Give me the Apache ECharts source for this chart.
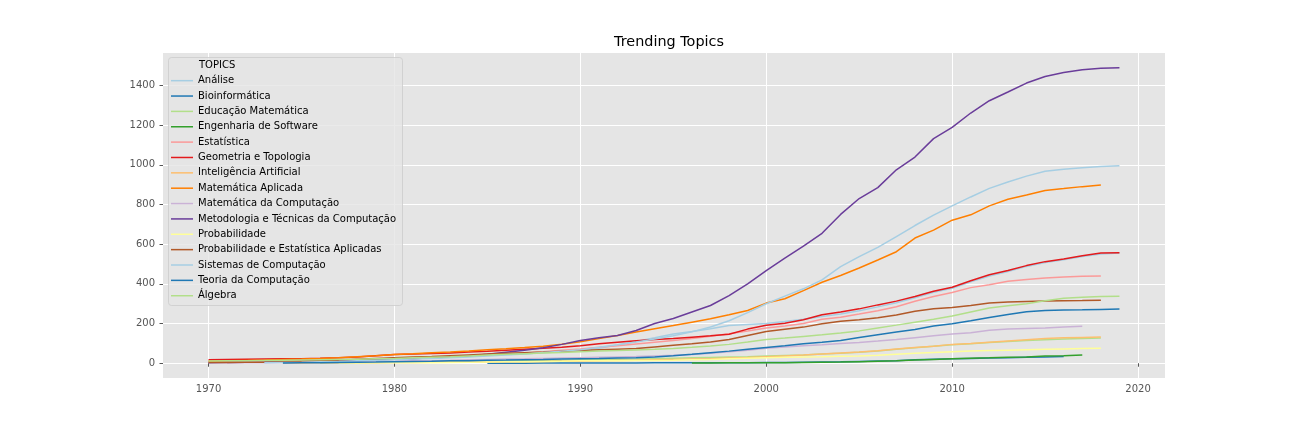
<!DOCTYPE html>
<html>
<head>
<meta charset="utf-8">
<script src="https://cdn.jsdelivr.net/npm/echarts@6/dist/echarts.min.js"></script>
<style>
html, body { margin: 0; padding: 0; background: #fff; }
#chart { width: 1296px; height: 432px; }
</style>
</head>
<body>
<div id="chart"></div>
<script>
// topic names, in legend order
var topics = ['Análise', 'Bioinformática', 'Educação Matemática', 'Engenharia de Software',
    'Estatística', 'Geometria e Topologia', 'Inteligência Artificial', 'Matemática Aplicada',
    'Matemática da Computação', 'Metodologia e Técnicas da Computação', 'Probabilidade',
    'Probabilidade e Estatística Aplicadas', 'Sistemas de Computação', 'Teoria da Computação', 'Álgebra'];

// first year of each series (values are yearly from there on)
var startYears = [1970, 1985, 1976, 1996, 1970, 1970, 1974, 1970, 1971, 1970, 1977, 1970, 1973, 1974, 1970];

var analise = [8, 9, 10, 11, 12, 13, 14, 16, 18, 21, 24, 27, 30, 33, 36, 40, 44, 48, 53, 58,
    64, 76, 92, 110, 128, 147, 160, 174, 190, 195, 200, 210, 222, 236, 248, 265, 284, 305, 330, 357,
    378, 410, 440, 462, 488, 508, 522, 538, 550, 556];
var bioinformatica = [0, 0, 0, 1, 1, 1, 1, 1, 1, 2, 2, 2, 2, 3, 3, 4, 4, 5, 6, 7,
    9, 11, 13, 17, 20, 22, 24, 26, 28, 30, 32, 34];
var educacaoMatematica = [1, 2, 3, 4, 5, 6, 7, 8, 9, 10, 11, 12, 13, 15, 17, 18, 20, 21, 23, 25,
    27, 29, 31, 33, 36, 39, 42, 46, 50, 55, 62, 70, 78, 86, 93, 98, 104, 109, 114, 118, 122, 125, 127];
var engenhariaSoftware = [1, 1, 2, 2, 3, 3, 4, 5, 6, 8, 10, 12, 16, 19, 22, 25, 27, 30, 32, 36, 38, 41];
var estatistica = [5, 6, 7, 8, 10, 12, 14, 16, 18, 21, 24, 27, 30, 34, 38, 42, 47, 52, 58, 65,
    72, 80, 88, 97, 106, 115, 125, 136, 148, 162, 178, 188, 200, 222, 232, 248, 265, 285, 312, 336,
    356, 381, 395, 413, 422, 430, 435, 438, 440];
var geometriaTopologia = [18, 19, 20, 21, 22, 23, 25, 28, 32, 38, 44, 46, 49, 52, 56, 60, 65, 70, 75, 80,
    88, 98, 106, 113, 119, 124, 131, 138, 146, 172, 191, 202, 219, 244, 258, 274, 294, 313, 336, 363,
    383, 416, 446, 467, 492, 512, 525, 542, 555, 557];
var inteligenciaArtificial = [1, 1, 2, 2, 3, 3, 4, 4, 5, 5, 6, 6, 7, 8, 9, 10, 11, 12, 14, 15,
    17, 19, 21, 23, 26, 29, 33, 37, 41, 46, 51, 56, 63, 72, 79, 86, 95, 100, 106, 112, 118, 124, 128, 130, 132];
var matematicaAplicada = [10, 12, 14, 16, 19, 21, 24, 28, 33, 38, 44, 48, 53, 57, 62, 68, 73, 79, 86, 96,
    108, 124, 140, 157, 174, 190, 207, 224, 244, 266, 303, 325, 366, 408, 442, 480, 520, 562, 631, 671,
    721, 748, 793, 826, 848, 871, 880, 890, 898];
var matematicaComputacao = [2, 2, 3, 4, 5, 6, 7, 8, 9, 10, 12, 13, 15, 17, 19, 21, 22, 24, 26, 28,
    30, 32, 34, 37, 40, 44, 50, 58, 66, 75, 82, 88, 93, 99, 105, 112, 120, 129, 138, 147,
    154, 166, 172, 175, 177, 183, 186];
var metodologiaTecnicas = [3, 4, 5, 6, 8, 10, 12, 14, 16, 18, 20, 23, 27, 31, 36, 45, 55, 65, 78, 95,
    115, 128, 140, 165, 200, 225, 258, 291, 341, 400, 467, 530, 590, 655, 750, 830, 885, 975, 1039, 1132,
    1189, 1261, 1323, 1367, 1412, 1445, 1465, 1479, 1487, 1489];
var probabilidade = [1, 1, 2, 2, 3, 3, 4, 5, 6, 7, 8, 9, 10, 12, 12, 13, 14, 14, 15, 17,
    19, 22, 25, 28, 30, 32, 33, 35, 37, 40, 45, 50, 54, 58, 61, 64, 66, 68, 70, 72, 74, 75];
var probEstAplicadas = [4, 4, 5, 5, 8, 10, 13, 16, 20, 24, 28, 31, 34, 38, 42, 46, 50, 53, 56, 60,
    64, 68, 71, 74, 82, 90, 98, 107, 120, 140, 160, 171, 182, 199, 211, 219, 229, 243, 262, 275,
    281, 291, 303, 308, 311, 313, 315, 316, 318];
var sistemasComputacao = [3, 4, 5, 7, 9, 12, 15, 18, 21, 24, 28, 32, 36, 41, 47, 54, 61,
    68, 80, 93, 107, 122, 138, 158, 183, 214, 255, 300, 338, 375, 420, 487, 537, 584, 638, 694, 746,
    793, 838, 881, 913, 943, 968, 978, 985, 992, 995];
var teoriaComputacao = [1, 2, 3, 4, 5, 6, 8, 9, 10, 12, 13, 15, 16, 18, 19, 21, 23, 24, 26, 28,
    32, 38, 45, 53, 61, 70, 79, 88, 98, 106, 115, 130, 144, 157, 170, 188, 199, 214, 231, 246,
    260, 266, 268, 269, 271, 273];
var algebra = [11, 12, 13, 14, 15, 16, 17, 19, 20, 22, 24, 27, 30, 33, 37, 41, 45, 48, 51, 54,
    58, 61, 64, 67, 70, 74, 80, 87, 95, 107, 120, 127, 135, 143, 152, 163, 178, 192, 207, 222,
    238, 258, 278, 290, 300, 315, 327, 333, 336, 338];

var xTicks = [1970, 1980, 1990, 2000, 2010, 2020];
var yTicks = [0, 200, 400, 600, 800, 1000, 1200, 1400];

var allValues = [analise, bioinformatica, educacaoMatematica, engenhariaSoftware, estatistica,
    geometriaTopologia, inteligenciaArtificial, matematicaAplicada, matematicaComputacao,
    metodologiaTecnicas, probabilidade, probEstAplicadas, sistemasComputacao, teoriaComputacao, algebra];

// matplotlib "Paired" colour cycle
var palette = ['#a6cee3', '#1f78b4', '#b2df8a', '#33a02c', '#fb9a99', '#e31a1c', '#fdbf6f',
    '#ff7f00', '#cab2d6', '#6a3d9a', '#ffff99', '#b15928'];

// axis limits with matplotlib's 5% margins
var xLo = 1970, xHi = 1970;
var yLo = 0, yHi = 0;
allValues.forEach(function (vals, i) {
    xLo = Math.min(xLo, startYears[i]);
    xHi = Math.max(xHi, startYears[i] + vals.length - 1);
    yLo = Math.min(yLo, Math.min.apply(null, vals));
    yHi = Math.max(yHi, Math.max.apply(null, vals));
});
var xPad = (xHi - xLo) * 0.05, yPad = (yHi - yLo) * 0.05;

var series = topics.map(function (name, i) {
    return {
        name: name,
        type: 'line',
        color: palette[i % palette.length],
        symbol: 'none',
        lineStyle: { width: 1.5 },
        emphasis: { disabled: true },
        data: allValues[i].map(function (v, k) { return [startYears[i] + k, v]; })
    };
});

var plainNumber = function (v) { return String(v); };
var labelStyle = { color: '#555555', fontSize: 10, fontFamily: 'DejaVu Sans', formatter: plainNumber };

option = {
    animation: false,
    backgroundColor: '#ffffff',
    title: {
        text: 'Trending Topics',
        left: 664,
        top: 30,
        textAlign: 'center',
        textStyle: { color: '#000000', fontSize: 14.4, fontWeight: 'normal', fontFamily: 'DejaVu Sans' }
    },
    grid: {
        left: 163, right: 131, top: 53, bottom: 54,
        show: true, backgroundColor: '#E5E5E5', borderWidth: 0
    },
    xAxis: {
        type: 'value',
        min: xLo - xPad,
        max: xHi + xPad,
        axisLine: { show: false },
        axisTick: { show: true, length: 3.5, lineStyle: { color: '#555555' }, customValues: xTicks },
        axisLabel: Object.assign({ margin: 6, customValues: xTicks }, labelStyle),
        splitLine: { show: true, lineStyle: { color: '#ffffff', width: 1 } }
    },
    yAxis: {
        type: 'value',
        min: yLo - yPad,
        max: yHi + yPad,
        axisLine: { show: false },
        axisTick: { show: true, length: 3.5, lineStyle: { color: '#555555' }, customValues: yTicks },
        axisLabel: Object.assign({ margin: 8, customValues: yTicks }, labelStyle),
        splitLine: { show: true, lineStyle: { color: '#ffffff', width: 1 } }
    },
    legend: {
        orient: 'vertical',
        left: 166,
        top: 68,
        z: 6,
        icon: 'rect',
        itemWidth: 22,
        itemHeight: 1.5,
        itemGap: 0,
        selectedMode: false,
        data: topics,
        textStyle: { color: '#000000', fontSize: 10, lineHeight: 15.36, fontFamily: 'DejaVu Sans' }
    },
    graphic: [
        {
            type: 'rect', z: 5, left: 168, top: 57,
            shape: { width: 234, height: 248, r: 3 },
            style: { fill: 'rgba(229,229,229,0.8)', stroke: 'rgba(204,204,204,0.8)', lineWidth: 1 }
        },
        {
            type: 'text', z: 7, left: 199, top: 60,
            style: { text: 'TOPICS', fill: '#000000', fontSize: 10, fontFamily: 'DejaVu Sans' }
        }
    ],
    series: series
};

var myChart = echarts.init(document.getElementById('chart'));
myChart.setOption(option);
</script>
</body>
</html>
